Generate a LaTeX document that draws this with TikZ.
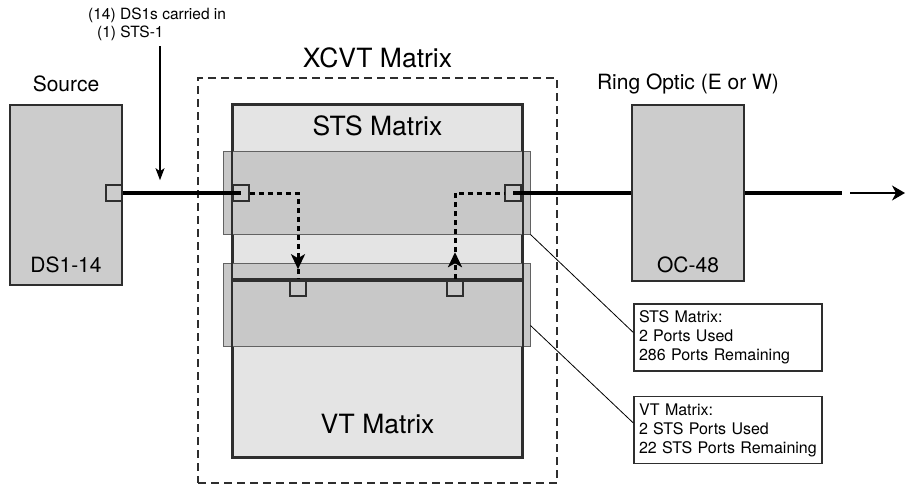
\documentclass[tikz,border=0pt]{standalone}
\usepackage{fontspec}
\setsansfont{TeX Gyre Heros}
\usetikzlibrary{arrows.meta, positioning, calc}
\definecolor{LightGray}{rgb}{0.895, 0.895, 0.895}
\definecolor{MediumGray}{rgb}{0.8, 0.8, 0.8}
\definecolor{BandGray}{rgb}{0.785, 0.785, 0.785}
\definecolor{DarkLine}{rgb}{0.18, 0.18, 0.18}

\begin{document}
\begin{tikzpicture}[x=1pt, y=-1pt, font=\sffamily,
    unit/.style={draw=DarkLine, line width=1.5pt, fill=MediumGray, minimum width=112pt, inner sep=0pt},
    matrixbox/.style={draw=DarkLine, line width=2pt, fill=LightGray, minimum width=289pt, inner sep=0pt},
    band/.style={draw=DarkLine!75, line width=1pt, fill=BandGray, minimum width=307pt,
        minimum height=83pt, inner sep=0pt},
    port/.style={draw=DarkLine, line width=1.6pt, minimum size=16pt, inner sep=0pt},
    note/.style={draw=DarkLine, line width=1.3pt, fill=white, align=left, text width=178pt,
        inner xsep=5pt, inner ysep=0pt, minimum height=67pt, font=\sffamily\fontsize{16}{19}\selectfont},
    biglabel/.style={inner sep=0pt, font=\sffamily\fontsize{26.5}{30}\selectfont},
    tag/.style={inner sep=0pt, font=\sffamily\fontsize{21}{25}\selectfont},
    trunk/.style={line width=3.6pt},
    feed/.style={line width=1.2pt, -{Stealth[length=12pt, width=9pt, inset=3pt]}},
    xpath/.style={line width=3pt, dash pattern=on 5pt off 4pt},
    lead/.style={line width=0.8pt}]

\useasboundingbox (0,0) rectangle (906,485);

% XCVT frame and the two matrices
\node[draw=DarkLine, line width=1.8pt, dash pattern=on 8pt off 5pt, minimum width=359pt,
      minimum height=405pt, inner sep=0pt] (xcvt) at (377.5,280.5) {};
\node[biglabel, above=9pt of xcvt] (xcvtname) {XCVT Matrix};

\node[matrixbox, minimum height=175pt] (sts) at (377.5,192.5) {};
\node[matrixbox, minimum height=177pt] (vt) at (377.5,368.5) {};
\node[band] (stsband) at (376.5,192.5) {};
\node[band] (vtband) at (376.5,304.5) {};
\draw[DarkLine, line width=2pt] (sts.north west) rectangle (sts.south east);
\draw[DarkLine, line width=2pt] (vt.north west) rectangle (vt.south east);
\node[biglabel, below=12pt of sts.north] (stsname) {STS Matrix};
\node[biglabel, above=24pt of vt.south] (vtname) {VT Matrix};

% source and ring optic
\node[unit, minimum height=180pt] (src) at (66,195) {};
\node[tag, above=12pt of src] (srcname) {Source};
\node[tag, above=13pt of src.south] (srctype) {DS1-14};
\node[unit, minimum height=176pt] (ring) at (688,193) {};
\node[tag, above=10pt of ring] (ringname) {Ring Optic (E or W)};
\node[tag, above=9pt of ring.south] (ringtype) {OC-48};

% ports
\node[port] (srcport) at (114,193) {};
\node[port] (stsin) at (241,193) {};
\node[port] (stsout) at (513,193) {};
\node[port] (vtin) at (298,288) {};
\node[port] (vtout) at (455,288) {};

\coordinate (gap) at (842,193);
\coordinate (far) at (905,193);

% signal path
\draw[trunk] (srcport.east) -- (stsin.center);
\draw[trunk] (stsout.center) -- (ring.west);
\draw[trunk] (ring.east) -- (gap);
\draw[feed, -{Stealth[length=13pt, width=15pt, inset=4pt]}] ([xshift=8pt]gap) -- (far);

\draw[xpath, -{Stealth[length=15pt, width=14pt, inset=4pt]}]
    (stsin.east) -| ([yshift=10pt]vtin.north);
\draw[xpath] ([yshift=10pt]vtin.north) -- (vtin.north);
\draw[xpath, -{Stealth[length=15pt, width=14pt, inset=4pt]}]
    (vtout.north) -- ([yshift=27pt]vtout.north);
\draw[xpath] ([yshift=27pt]vtout.north) |- (stsout.west);

% carried label
\node[anchor=north west, inner sep=0pt, align=left, font=\sffamily\fontsize{15.5}{18}\selectfont]
    (carry) at (88,8) {(14) DS1s carried in\\\hspace*{9pt}(1) STS-1};
\draw[feed] ([yshift=-5pt]carry.south -| 160,0) -- ([yshift=4pt]srcport.north -| 160,0);

% port counts
\node[note] (stsnote) at (728,337.5)
    {STS Matrix:\\2 Ports Used\\286 Ports Remaining};
\node[note] (vtnote) at (728,430)
    {VT Matrix:\\2 STS Ports Used\\22 STS Ports Remaining};
\draw[lead] (stsband.south east) -- ([yshift=5pt]stsnote.west);
\draw[lead] ([yshift=-21pt]vtband.east) -- ([yshift=7pt]vtnote.west);

\end{tikzpicture}
\end{document}
